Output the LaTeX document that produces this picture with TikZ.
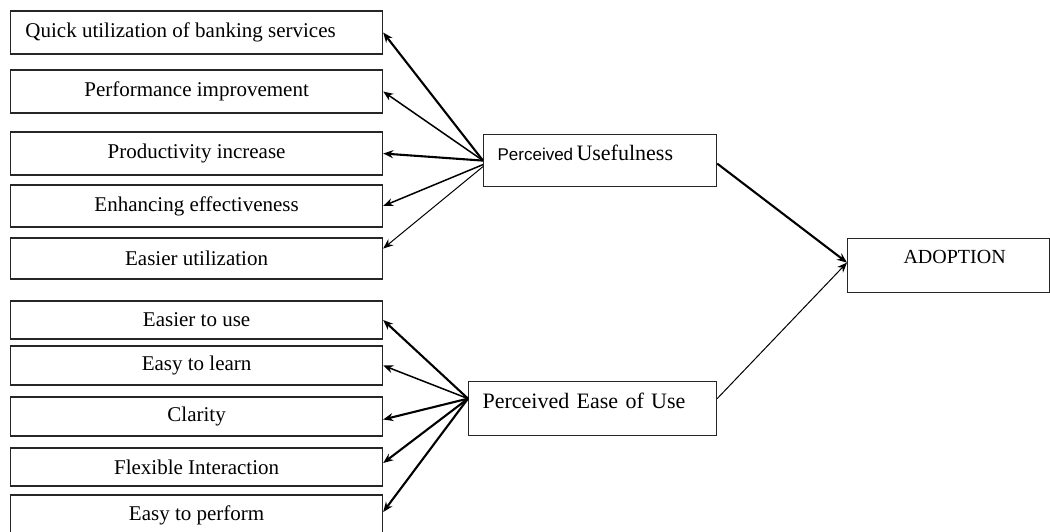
\documentclass[tikz,border=0pt]{standalone}
\usepackage{fontspec}
\setmainfont{Liberation Serif}
\newfontfamily\pusans{Liberation Sans}
\usepackage{tikz}
\usetikzlibrary{arrows.meta,positioning,calc}

\begin{document}
\begin{tikzpicture}[
    x=1pt, y=-1pt,
    item/.style={draw=black!85, line width=1.2pt, anchor=west, inner sep=0pt,
                 minimum width=372pt, font=\fontsize{21}{25}\selectfont},
    construct/.style={draw=black!85, line width=1.2pt, anchor=north west,
                 inner xsep=14pt, inner ysep=0pt, align=left},
    link/.style={-{Stealth[length=10pt,width=8pt]}, line width=1.5pt},
    heavy/.style={link, line width=2.1pt},
    light/.style={link, line width=1pt},
    ]
\useasboundingbox (0,0) rectangle (1050,531);

% ---- usefulness items ----
\node[item, minimum height=43pt] (quick) at (10,32.5) {\hspace*{-32pt}Quick utilization of banking services};
\node[item, minimum height=43pt] (perf) at (10,91.5) {Performance improvement};
\node[item, minimum height=43pt] (prod) at (10,153.5) {Productivity increase};
\node[item, minimum height=42pt] (effect) at (10,206) {Enhancing effectiveness};
\node[item, minimum height=41pt] (easutil) at (10,258.5) {Easier utilization};

% ---- ease of use items ----
\node[item, minimum height=38pt] (easuse) at (10,320) {Easier to use};
\node[item, minimum height=39pt] (learn) at (10,365.5) {Easy to learn};
\node[item, minimum height=39pt] (clarity) at (10,416.5) {Clarity};
\node[item, minimum height=38pt] (flex) at (10,467) {Flexible Interaction};
\node[item, minimum height=40pt] (perform) at (10,515) {Easy to perform};

% ---- constructs ----
\node[construct, text width=205pt, text height=26pt, text depth=26pt] (pu) at (483,134)
     {{\pusans\fontsize{17}{20}\selectfont Perceived} {\fontsize{22}{26}\selectfont Usefulness}};
\node[construct, text width=220pt, text height=27pt, text depth=27pt,
      font=\fontsize{22}{26}\selectfont] (pe) at (468,381) {Perceived Ease of Use};
\node[construct, inner xsep=0pt, minimum width=202pt, text height=25pt, text depth=29pt,
      font=\fontsize{20}{24}\selectfont] (adopt) at (847,238) {\hspace*{12pt}ADOPTION};

% ---- edges ----
\draw[heavy] (pu.west) -- (quick.east);
\draw[link] (pu.west) -- (perf.east);
\draw[heavy] (pu.west) -- (prod.east);
\draw[link] ([yshift=-4pt]pu.west) -- (effect.east);
\draw[light] ([yshift=-6pt]pu.west) -- ([yshift=10pt]easutil.east);

\draw[heavy] ([yshift=10pt]pe.west) -- (easuse.east);
\draw[link] ([yshift=10pt]pe.west) -- (learn.east);
\draw[heavy] ([yshift=10pt]pe.west) -- ([yshift=-3pt]clarity.east);
\draw[heavy] ([yshift=10pt]pe.west) -- ([yshift=4pt]flex.east);
\draw[heavy] ([yshift=10pt]pe.west) -- ([yshift=3pt]perform.east);

\draw[heavy] ([yshift=-3pt]pu.east) -- ([yshift=3pt]adopt.west);
\draw[light] ([yshift=10pt]pe.east) -- ([yshift=3pt]adopt.west);
\end{tikzpicture}
\end{document}
